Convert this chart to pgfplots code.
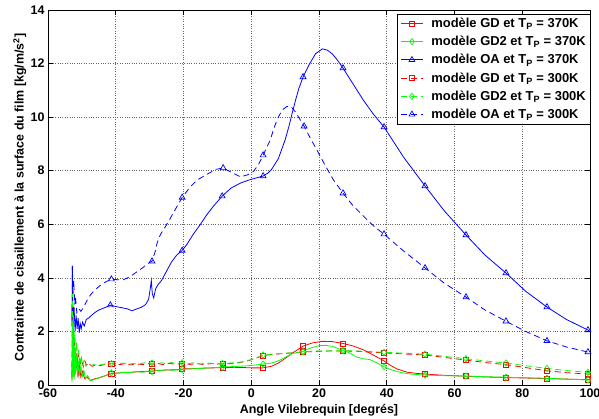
\documentclass[border=0pt]{standalone}
\usepackage{pgfplots}
\pgfplotsset{compat=1.18}
\usepackage{fontspec}
\setmainfont{Liberation Sans}
\newcommand\f{\fontsize{12.5}{15}\selectfont\bfseries}
\newcommand\fl{\fontsize{13}{15}\selectfont\bfseries}
\definecolor{mred}{rgb}{1,0,0}
\definecolor{mgreen}{rgb}{0,1,0}
\definecolor{mblue}{rgb}{0,0,1}
\begin{document}
\begin{tikzpicture}
\begin{axis}[
  scale only axis, width=542bp, height=375bp,
  xmin=-60, xmax=100, ymin=0, ymax=14,
  xtick={-60,-40,...,100}, ytick={0,2,...,14},
  tick align=inside, major tick length=5bp,
  grid=major, grid style={black!60, dotted, line width=0.6bp},
  axis line style={line width=0.7bp},
  tick style={line width=0.7bp, black},
  tick label style={font=\f},
  /pgf/number format/assume math mode=true,
  xlabel={Angle Vilebrequin [degrés]},
  ylabel={Contrainte de cisaillement à la surface du film [kg/m/s\textsuperscript{2}]},
  every axis x label/.style={at={(axis description cs:0.5,-0.067)}, anchor=center, font=\f},
  every axis y label/.style={at={(axis description cs:-0.052,0.5)}, anchor=center, rotate=90, font=\f},
  legend style={at={(1.002,0.99)}, anchor=north east, font=\fl, draw=black, line width=0.6bp, fill=white, inner xsep=3bp, inner ysep=2bp, row sep=3.2bp},
  legend cell align=left,
  legend image code/.code={\draw[mark repeat=2, mark phase=2] plot coordinates {(0bp,0bp) (11bp,0bp) (22bp,0bp)}; \path (28bp,0bp);},
  every axis plot/.append style={line width=0.8bp},
  mark options={solid, line width=0.7bp},
]
\addlegendimage{mred, mark=square, mark size=2.6bp}
\addlegendentry{modèle GD et T\textsubscript{P} = 370K}
\addlegendimage{mgreen, mark=diamond, mark size=3.2bp}
\addlegendentry{modèle GD2 et T\textsubscript{P} = 370K}
\addlegendimage{mblue, mark=triangle, mark size=3.4bp}
\addlegendentry{modèle OA et T\textsubscript{P} = 370K}
\addlegendimage{mred, dash pattern=on 6bp off 4bp, mark=square, mark size=2.6bp}
\addlegendentry{modèle GD et T\textsubscript{P} = 300K}
\addlegendimage{mgreen, dash pattern=on 6bp off 4bp, mark=diamond, mark size=3.2bp}
\addlegendentry{modèle GD2 et T\textsubscript{P} = 300K}
\addlegendimage{mblue, dash pattern=on 6bp off 4bp, mark=triangle, mark size=3.4bp}
\addlegendentry{modèle OA et T\textsubscript{P} = 300K}

% ---------- OA 370K (blue solid)
\addplot[mblue, no marks, forget plot] coordinates {
(-52.9,2.2)(-52.8,4.45)(-52.7,3.1)(-52.5,2.3)(-52.3,2.9)(-52.0,2.0)(-51.7,2.6)(-51.4,2.1)(-51.1,2.5)(-50.8,1.95)(-50.5,2.3)(-50.2,2.1)(-49.8,2.35)(-49.3,2.2)(-48.7,2.45)(-48,2.5)(-47,2.62)(-46,2.72)(-45,2.8)(-44,2.85)(-43,2.9)(-41.6,2.98)(-40,2.93)(-38,2.88)(-36.5,2.84)(-35.2,2.77)(-34,2.83)(-32.5,2.9)(-31.2,3.0)(-30.3,3.2)(-29.8,3.6)(-29.5,3.9)(-29.2,3.4)(-28.8,3.25)(-28.2,3.6)(-27.5,3.75)(-26.5,3.9)(-25,4.25)(-23.5,4.6)(-22,4.85)(-20.4,5.02)(-19,5.25)(-17,5.65)(-15,6.0)(-13,6.38)(-11,6.7)(-8.6,7.05)(-6,7.35)(-3,7.55)(0,7.68)(3.5,7.8)(5,7.92)(6,8.05)(7,8.25)(8,8.45)(9,8.8)(10,9.15)(11,9.6)(12,10.1)(13,10.6)(14,11.05)(15.3,11.5)(17,11.94)(19,12.37)(21,12.55)(22.5,12.5)(24,12.35)(25.5,12.12)(27.1,11.83)(30,11.25)(33,10.65)(36,10.12)(39.2,9.63)(45,8.5)(51.3,7.43)(57,6.5)(63.4,5.6)(69,4.85)(75.2,4.18)(81,3.5)(87.3,2.91)(93,2.45)(99.4,2.05)(100,2.0)};
\addplot[mblue, only marks, mark=triangle, mark size=3.4bp, forget plot] coordinates {
(-41.6,2.98)(-20.4,5.02)(-8.6,7.05)(3.5,7.8)(15.3,11.5)(27.1,11.83)(39.2,9.63)(51.3,7.43)(63.4,5.6)(75.2,4.18)(87.3,2.91)(99.4,2.05)};

% ---------- OA 300K (blue dashed)
\addplot[mblue, no marks, dash pattern=on 6bp off 4bp, forget plot] coordinates {
(-52.9,2.4)(-52.8,4.45)(-52.6,3.4)(-52.4,3.9)(-52.1,3.0)(-51.9,3.3)(-51.5,2.7)(-50.9,2.85)(-50.3,2.75)(-49.5,2.9)(-48.5,3.15)(-47.5,3.36)(-46.5,3.5)(-45.5,3.62)(-44.5,3.72)(-43.6,3.8)(-42.5,3.88)(-41.3,3.95)(-39.5,3.93)(-37.7,3.93)(-35.7,4.05)(-33.7,4.23)(-32,4.38)(-30.8,4.52)(-29.3,4.62)(-28.3,5.0)(-27.8,5.3)(-26.8,5.62)(-25.4,5.9)(-24,6.2)(-22,6.65)(-20.4,7.0)(-18,7.4)(-16,7.65)(-13,7.87)(-10.5,8.05)(-8.3,8.1)(-6,7.95)(-3.2,7.77)(-1,7.85)(0.6,7.97)(2,8.2)(3.5,8.58)(4.5,8.85)(5.6,9.14)(6.6,9.55)(7.6,9.89)(8.5,10.12)(9.5,10.3)(10.4,10.39)(11.2,10.41)(12,10.35)(13,10.2)(14.2,9.95)(15.6,9.66)(17.5,9.2)(19.4,8.77)(21.8,8.2)(24.3,7.65)(27.1,7.16)(30,6.7)(33,6.32)(36,5.95)(39.2,5.63)(45,5.0)(51.3,4.37)(57,3.8)(63.4,3.28)(69,2.8)(75.2,2.38)(81,2.0)(87.3,1.65)(93,1.42)(99.4,1.23)(100,1.21)};
\addplot[mblue, only marks, mark=triangle, mark size=3.4bp, forget plot] coordinates {
(-41.3,3.95)(-29.3,4.62)(-20.4,7.0)(-8.3,8.1)(3.5,8.58)(15.6,9.66)(27.1,7.16)(39.2,5.63)(51.3,4.37)(63.4,3.28)(75.2,2.38)(87.3,1.65)(99.4,1.23)};

% ---------- GD 300K (red dashed)
\addplot[mred, no marks, dash pattern=on 6bp off 4bp, forget plot] coordinates {
(-52.9,0.3)(-52.8,3.0)(-52.7,0.9)(-52.5,2.3)(-52.3,0.5)(-52.1,1.8)(-51.8,0.8)(-51.5,1.4)(-51.2,0.7)(-50.9,1.2)(-50.5,0.7)(-50.1,1.0)(-49.6,0.68)(-49.1,0.9)(-48.5,0.7)(-47.8,0.78)(-47,0.7)(-46,0.74)(-44.5,0.73)(-43,0.77)(-41.3,0.8)(-39,0.76)(-37,0.8)(-35.5,0.75)(-34,0.79)(-32,0.76)(-30.5,0.8)(-29.3,0.78)(-27.5,0.8)(-26,0.76)(-24,0.81)(-22.5,0.77)(-20.4,0.8)(-18,0.77)(-16,0.8)(-14,0.76)(-12,0.8)(-10,0.78)(-8.5,0.79)(-6,0.8)(-4,0.83)(-2,0.87)(0,0.94)(2,1.03)(3.5,1.1)(6,1.14)(9,1.17)(12,1.2)(15.3,1.23)(20,1.26)(24,1.27)(27.1,1.27)(31,1.26)(35,1.23)(39.2,1.2)(45,1.16)(51.3,1.12)(57,1.03)(63.4,0.93)(69,0.84)(75.2,0.76)(81,0.65)(87.3,0.53)(93,0.46)(99.4,0.41)(100,0.4)};
\addplot[mred, only marks, mark=square, mark size=2.6bp, forget plot] coordinates {
(-41.3,0.8)(-29.3,0.78)(-20.4,0.8)(-8.5,0.79)(3.5,1.1)(15.3,1.23)(27.1,1.27)(39.2,1.2)(51.3,1.12)(63.4,0.93)(75.2,0.76)(87.3,0.53)(99.4,0.41)};

% ---------- GD2 300K (green dashed)
\addplot[mgreen, no marks, dash pattern=on 6bp off 4bp, forget plot] coordinates {
(-52.9,0.3)(-52.8,3.4)(-52.7,1.0)(-52.5,2.6)(-52.3,0.6)(-52.1,2.0)(-51.9,0.9)(-51.6,1.6)(-51.3,0.8)(-51.0,1.3)(-50.6,0.75)(-50.2,1.1)(-49.8,0.7)(-49.3,0.95)(-48.8,0.7)(-48.2,0.8)(-47.5,0.72)(-46.5,0.76)(-45,0.74)(-43.5,0.78)(-41.3,0.8)(-39.5,0.78)(-38,0.82)(-36.5,0.77)(-35,0.8)(-33,0.78)(-31.5,0.83)(-30,0.79)(-29.3,0.82)(-28,0.77)(-26.5,0.83)(-25,0.79)(-23.5,0.84)(-22,0.78)(-20.4,0.83)(-19,0.79)(-17,0.83)(-15,0.78)(-13,0.82)(-11,0.8)(-8.5,0.8)(-6,0.82)(-4,0.84)(-2,0.88)(0,0.95)(2,1.04)(3.5,1.12)(6,1.15)(9,1.18)(12,1.2)(15.3,1.24)(20,1.27)(24,1.28)(27.1,1.28)(31,1.27)(35,1.25)(39.2,1.22)(45,1.19)(51.3,1.15)(57,1.07)(63.4,0.98)(69,0.9)(75.2,0.82)(81,0.72)(87.3,0.62)(93,0.54)(99.4,0.47)(100,0.46)};
\addplot[mgreen, only marks, mark=diamond, mark size=3.2bp, forget plot] coordinates {
(-41.3,0.8)(-29.3,0.82)(-20.4,0.83)(-8.5,0.8)(3.5,1.12)(15.3,1.24)(27.1,1.28)(39.2,1.22)(51.3,1.15)(63.4,0.98)(75.2,0.82)(87.3,0.62)(99.4,0.47)};

% ---------- GD 370K (red solid)
\addplot[mred, no marks, forget plot] coordinates {
(-52.9,0.2)(-52.8,2.1)(-52.7,0.4)(-52.5,1.5)(-52.3,0.3)(-52.1,1.1)(-51.8,0.5)(-51.5,0.9)(-51.1,0.35)(-50.7,0.7)(-50.3,0.3)(-49.8,0.5)(-49.2,0.25)(-48.5,0.3)(-47.5,0.17)(-46.5,0.22)(-45,0.27)(-43,0.35)(-41.3,0.43)(-39,0.45)(-37,0.47)(-35,0.48)(-33,0.5)(-31,0.5)(-29.3,0.52)(-27,0.54)(-25,0.56)(-22,0.57)(-20.4,0.6)(-17,0.61)(-14,0.63)(-11,0.64)(-8.5,0.65)(-5,0.66)(-2,0.65)(0,0.64)(3.5,0.64)(6,0.7)(8,0.82)(10,0.99)(12,1.18)(15.3,1.45)(18,1.57)(21,1.63)(24,1.62)(27.1,1.55)(30,1.46)(33,1.32)(36,1.12)(39.2,0.9)(41,0.74)(43,0.6)(46,0.48)(49,0.43)(51.3,0.41)(57,0.36)(63.4,0.33)(69,0.3)(75.2,0.28)(81,0.26)(87.3,0.24)(93,0.22)(99.4,0.2)(100,0.2)};
\addplot[mred, only marks, mark=square, mark size=2.6bp, forget plot] coordinates {
(-41.3,0.43)(-29.3,0.52)(-20.4,0.6)(-8.5,0.65)(3.5,0.64)(15.3,1.45)(27.1,1.55)(39.2,0.9)(51.3,0.41)(63.4,0.33)(75.2,0.28)(87.3,0.24)(99.4,0.2)};

% ---------- GD2 370K (green solid)
\addplot[mgreen, no marks, forget plot] coordinates {
(-52.9,0.1)(-52.8,2.3)(-52.7,0.3)(-52.5,1.7)(-52.3,0.2)(-52.1,1.3)(-51.9,0.4)(-51.6,1.1)(-51.3,0.3)(-51.0,0.9)(-50.7,0.35)(-50.3,0.75)(-49.9,0.3)(-49.4,0.55)(-48.9,0.22)(-48.3,0.35)(-47.5,0.15)(-46.5,0.2)(-45.5,0.24)(-44,0.3)(-42.5,0.38)(-41.3,0.45)(-40,0.43)(-38,0.47)(-36,0.46)(-34,0.5)(-32,0.48)(-30.5,0.52)(-29.3,0.5)(-28.5,0.56)(-27,0.53)(-25,0.57)(-23,0.55)(-20.4,0.58)(-18,0.6)(-15,0.62)(-12,0.64)(-8.5,0.67)(-5,0.69)(-2,0.71)(0,0.73)(3.5,0.78)(6,0.82)(8,0.9)(10,1.03)(12,1.17)(15.3,1.25)(17,1.36)(20,1.47)(22,1.48)(24,1.44)(27.1,1.29)(29,1.2)(31,1.05)(33,0.98)(35,0.95)(37,0.83)(39.2,0.68)(41,0.58)(44,0.47)(47,0.41)(51.3,0.37)(57,0.35)(63.4,0.33)(69,0.31)(75.2,0.29)(81,0.27)(87.3,0.25)(93,0.22)(99.4,0.19)(100,0.19)};
\addplot[mgreen, only marks, mark=diamond, mark size=3.2bp, forget plot] coordinates {
(-41.3,0.45)(-29.3,0.5)(-20.4,0.58)(-8.5,0.67)(3.5,0.78)(15.3,1.25)(27.1,1.29)(39.2,0.68)(51.3,0.37)(63.4,0.33)(75.2,0.29)(87.3,0.25)(99.4,0.19)};
\end{axis}
\pgfresetboundingbox
\path[use as bounding box] ([shift={(-48bp,-34bp)}]current axis.south west) rectangle ([shift={(9bp,10bp)}]current axis.north east);
\end{tikzpicture}
\end{document}
